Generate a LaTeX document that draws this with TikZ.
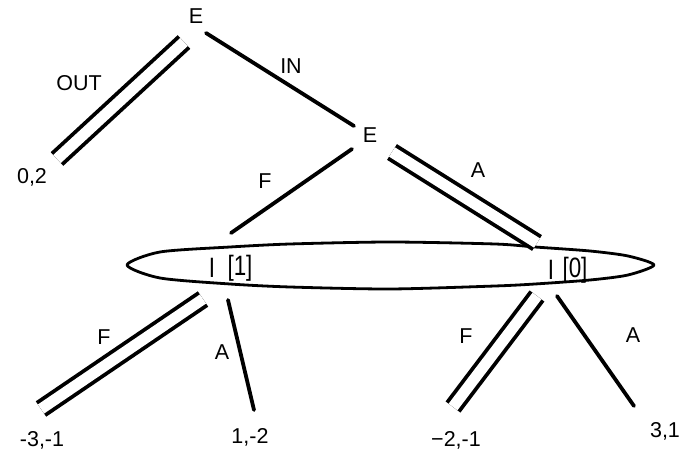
\documentclass[tikz,border=0pt]{standalone}
\usepackage{fontspec}
\setmainfont{Liberation Sans}
\begin{document}
\begin{tikzpicture}[x=1pt,y=-1pt,
  lbl/.style={font=\fontsize{21.5}{24}\selectfont, inner sep=0pt},
  isl/.style={font=\fontsize{28}{30}\selectfont, inner sep=0pt, xscale=0.8, transform shape},
  edge/.style={line width=3.8pt, line cap=round},
  dbl/.style={line width=3.8pt, double, double distance=11pt},
  infoset/.style={line width=2.8pt, line join=round}]
\useasboundingbox (0,0) rectangle (689,454);
% nodes
\node[lbl] (E1) at (196,16) {E};
\node[lbl] (E2) at (370,135) {E};
\node[lbl] (p02) at (32,177) {0,2};
\node[isl] (I1) at (212,268) {I};
\node[isl] (I1b) at (240,268) {[1]};
\node[isl] (I0) at (551,270) {I};
\node[isl] (I0b) at (575,270) {[0]};
\node[lbl] (p31a) at (42,440) {-3,-1};
\node[lbl] (p12) at (250,437) {1,-2};
\node[lbl] (p21) at (456,440) {−2,-1};
\node[lbl] (p31) at (665,431) {3,1};
% labels
\node[lbl] (lOUT) at (79,83) {OUT};
\node[lbl] (lIN) at (291,66) {IN};
\node[lbl] (lF1) at (265,181) {F};
\node[lbl] (lA1) at (478,170) {A};
\node[lbl] (lF2) at (104,337) {F};
\node[lbl] (lA2) at (222,352) {A};
\node[lbl] (lF3) at (466,336) {F};
\node[lbl] (lA3) at (633,335) {A};
% connector ends
\coordinate (E1a) at (184,42);
\coordinate (E1b) at (206,33);
\coordinate (p02a) at (57,159);
\coordinate (E2a) at (354,126);
\coordinate (E2b) at (352,149);
\coordinate (E2c) at (392,152);
\coordinate (I1top) at (231,233);
\coordinate (I0top) at (537,243);
\coordinate (I1a) at (203,299);
\coordinate (I1c) at (228,300);
\coordinate (I0a) at (537,296);
\coordinate (I0c) at (557,296);
\coordinate (p31aa) at (41,409);
\coordinate (p12a) at (254,410);
\coordinate (p21a) at (453,407);
\coordinate (p31b) at (634,406);
% information set
\draw[infoset] plot[smooth cycle, tension=0.45] coordinates {
  (127,265) (160,252) (230,247) (290,244) (390,242) (495,244) (535,247)
  (590,251) (628,256) (654,265) (628,275) (590,280) (535,284) (495,286)
  (390,289) (290,287) (230,284) (160,278)};
% connectors
\draw[dbl] (E1a) -- (p02a);
\draw[edge] (E1b) -- (E2a);
\draw[edge] (E2b) -- (I1top);
\draw[dbl] (E2c) -- (I0top);
\draw[dbl] (I1a) -- (p31aa);
\draw[edge] (I1c) -- (p12a);
\draw[dbl] (I0a) -- (p21a);
\draw[edge] (I0c) -- (p31b);
\end{tikzpicture}
\end{document}
